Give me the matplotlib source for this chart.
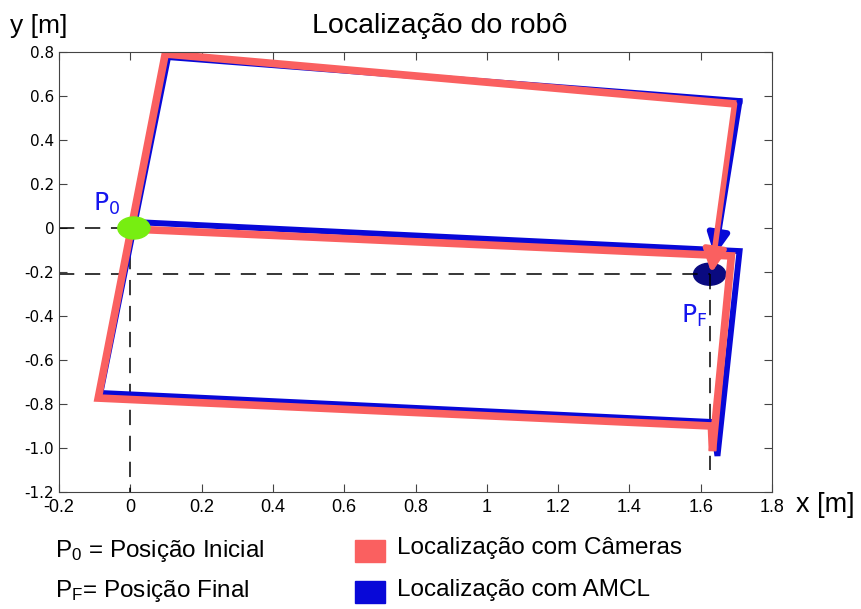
import numpy as np
import matplotlib.pyplot as plt
from matplotlib.patches import Ellipse, Rectangle

# trajectories (x, y in metres)
cam_x = [0.008, 1.686, 1.633, 1.630, -0.090, 0.098, 1.695, 1.630]
cam_y = [-0.005, -0.127, -1.014, -0.900, -0.773, 0.791, 0.564, -0.205]
amcl_x = [0.014, 1.709, 1.647, 1.633, -0.084, 0.106, 1.709, 1.639]
amcl_y = [0.027, -0.105, -1.036, -0.882, -0.750, 0.777, 0.577, -0.127]

p0 = (0.01, 0.0)
pf = (1.625, -0.21)

xticks = [-0.2, 0, 0.2, 0.4, 0.6, 0.8, 1, 1.2, 1.4, 1.6, 1.8]
xlabels = ['-0.2', '0', '0.2', '0.4', '0.6', '0.8', '1', '1.2', '1.4', '1.6', '1.8']
yticks = [0.8, 0.6, 0.4, 0.2, 0, -0.2, -0.4, -0.6, -0.8, -1.0, -1.2]
ylabels = ['0.8', '0.6', '0.4', '0.2', '0', '-0.2', '-0.4', '-0.6', '-0.8', '-1.0', '-1.2']

red = '#fa6060'
blue = '#0808d8'
sans = ['Liberation Sans', 'DejaVu Sans']

fig = plt.figure(figsize=(8.61, 6.09), dpi=100)
ax = fig.add_axes([59/861, 117/609, 713/861, 440/609])

# dashed guide lines
dash = dict(color='k', lw=1.1, dashes=(10, 7))
ax.plot([-0.2, p0[0]], [0, 0], **dash)
ax.plot([0, 0], [0, -1.2], **dash)
ax.plot([-0.2, pf[0]], [pf[1], pf[1]], **dash)
ax.plot([pf[0], pf[0]], [pf[1], -1.1], **dash)

ax.add_patch(Ellipse(pf, 0.09, 0.1, color='#0a0a80', zorder=1.5))

ax.plot(amcl_x[:-1], amcl_y[:-1], color=blue, lw=4.3, solid_joinstyle='miter')
ax.annotate('', xy=(amcl_x[-1], amcl_y[-1]), xytext=(amcl_x[-2], amcl_y[-2]),
            arrowprops=dict(arrowstyle='-|>', color=blue, lw=4.3, mutation_scale=32,
                            shrinkA=0, shrinkB=0))
ax.plot(cam_x[:-1], cam_y[:-1], color=red, lw=5.5, solid_joinstyle='miter')
ax.annotate('', xy=(cam_x[-1], cam_y[-1]), xytext=(cam_x[-2], cam_y[-2]),
            arrowprops=dict(arrowstyle='-|>', color=red, lw=4, mutation_scale=34,
                            shrinkA=0, shrinkB=0))

ax.add_patch(Ellipse(p0, 0.09, 0.1, color='#77ee11', zorder=5))

ax.text(-0.105, 0.08, r'$\mathregular{P_0}$', color='#1515ee', fontsize=18)
ax.text(1.545, -0.43, r'$\mathregular{P_F}$', color='#1515ee', fontsize=18)

ax.set_xlim(-0.2, 1.8)
ax.set_ylim(-1.2, 0.8)
ax.set_xticks(xticks)
ax.set_xticklabels(xlabels, family=sans, fontsize=13)
ax.set_yticks(yticks)
ax.set_yticklabels(ylabels, fontsize=11)
ax.tick_params(direction='in', top=True, right=True, length=6, color='#444444')
ax.tick_params(axis='x', pad=5)
for s in ax.spines.values():
    s.set_color('#444444')

fig.text(0.511, 0.958, 'Localização do robô', ha='center', va='center', family=sans, fontsize=20.5)
fig.text(0.012, 0.958, 'y [m]', ha='left', va='center', family=sans, fontsize=19)
fig.text(0.924, 0.171, 'x [m]', ha='left', va='center', family=sans, fontsize=19.5)

# legend drawn by hand
fig.text(0.064, 0.095, r'$\mathregular{P_0}$ = Posição Inicial', family=sans, fontsize=17.5, va='center')
fig.text(0.064, 0.030, r'$\mathregular{P_F}$= Posição Final', family=sans, fontsize=17.5, va='center')
fig.patches.append(Rectangle((355/861, 1-562/609), 30/861, 22/609, color=red, transform=fig.transFigure))
fig.patches.append(Rectangle((355/861, 1-603/609), 30/861, 22/609, color=blue, transform=fig.transFigure))
fig.text(397/861, 1-548/609, 'Localização com Câmeras', family=sans, fontsize=17.5, va='center')
fig.text(397/861, 1-590/609, 'Localização com AMCL', family=sans, fontsize=17.5, va='center')

fig.savefig('out.png', dpi=100)
